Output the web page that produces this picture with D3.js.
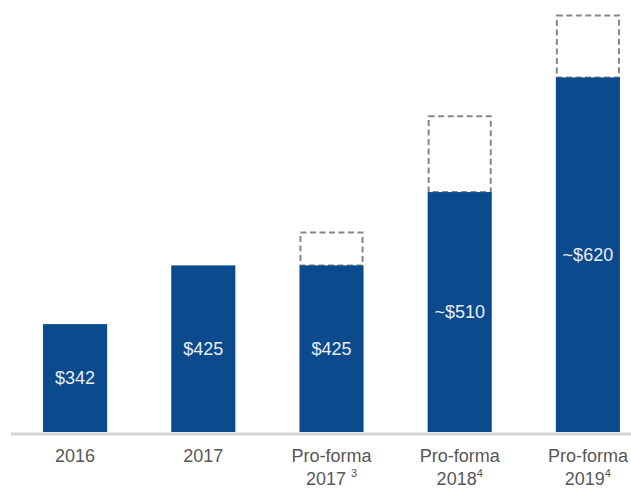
<!DOCTYPE html>
<html>
<head>
<meta charset="utf-8">
<script src="https://cdn.jsdelivr.net/npm/d3@7"></script>
<style>
  html, body { margin: 0; padding: 0; background: #ffffff; }
  svg { display: block; }
  text { font-family: "Liberation Sans", Arial, sans-serif; }
</style>
</head>
<body>
<svg id="chart" width="631" height="488"></svg>
<script>
// Revenue by period ($M)
const periods   = ["2016", "2017", "PF2017", "PF2018", "PF2019"];
const labelLine1 = ["2016", "2017", "Pro-forma", "Pro-forma", "Pro-forma"];
const labelLine2 = ["", "", "2017", "2018", "2019"];
const footnotes  = ["", "", "3", "4", "4"];
const values     = [342, 425, 425, 510, 620];
const valueText  = ["$342", "$425", "$425", "~$510", "~$620"];
// upper end of the pro-forma range (dashed outline); null where none
const upside     = [null, null, 465, 585, 672];

const W = 631, H = 488;
const baseline = 432;

const svg = d3.select("#chart");

const x = d3.scaleBand()
  .domain(periods)
  .range([11, 652])
  .paddingInner(0.5)
  .paddingOuter(0.25);

const y = d3.scalePow()
  .exponent(2)
  .domain([0, 700])
  .range([baseline, baseline - 452]);

const data = periods.map((p, i) => ({
  p, v: values[i], t: valueText[i], up: upside[i],
  l1: labelLine1[i], l2: labelLine2[i], fn: footnotes[i]
}));

// dashed outline for the upside range
svg.append("g").selectAll("rect")
  .data(data.filter(d => d.up != null))
  .join("rect")
  .attr("x", d => x(d.p) + 1)
  .attr("y", d => y(d.up))
  .attr("width", x.bandwidth() - 2)
  .attr("height", d => y(d.v) - y(d.up))
  .attr("fill", "none")
  .attr("stroke", "#868686")
  .attr("stroke-width", 2)
  .attr("stroke-dasharray", "6,3.5");

// bars
svg.append("g").selectAll("rect")
  .data(data)
  .join("rect")
  .attr("x", d => x(d.p))
  .attr("y", d => y(d.v))
  .attr("width", x.bandwidth())
  .attr("height", d => baseline - y(d.v))
  .attr("fill", "#0c4a8e");

// value labels centred in each bar
svg.append("g").selectAll("text")
  .data(data)
  .join("text")
  .attr("x", d => x(d.p) + x.bandwidth() / 2)
  .attr("y", d => (y(d.v) + baseline) / 2)
  .attr("dy", "0.35em")
  .attr("text-anchor", "middle")
  .attr("font-size", 18)
  .attr("fill", "#e9eef6")
  .text(d => d.t);

// baseline
svg.append("line")
  .attr("x1", 11).attr("x2", W)
  .attr("y1", baseline + 2).attr("y2", baseline + 2)
  .attr("stroke", "#d6d6d6")
  .attr("stroke-width", 3);

// category labels
const cat = svg.append("g").selectAll("g")
  .data(data)
  .join("g")
  .attr("transform", d => `translate(${x(d.p) + x.bandwidth() / 2},0)`);

cat.append("text")
  .attr("y", 462)
  .attr("text-anchor", "middle")
  .attr("font-size", 18)
  .attr("fill", "#575757")
  .text(d => d.l1);

const l2 = cat.filter(d => d.l2 !== "").append("text")
  .attr("y", 485)
  .attr("text-anchor", "middle")
  .attr("font-size", 18)
  .attr("fill", "#575757");
l2.append("tspan").text(d => d.l2 + (d.fn === "3" ? " " : ""));
l2.append("tspan")
  .attr("dy", -8)
  .attr("font-size", 11)
  .text(d => d.fn);
</script>
</body>
</html>
